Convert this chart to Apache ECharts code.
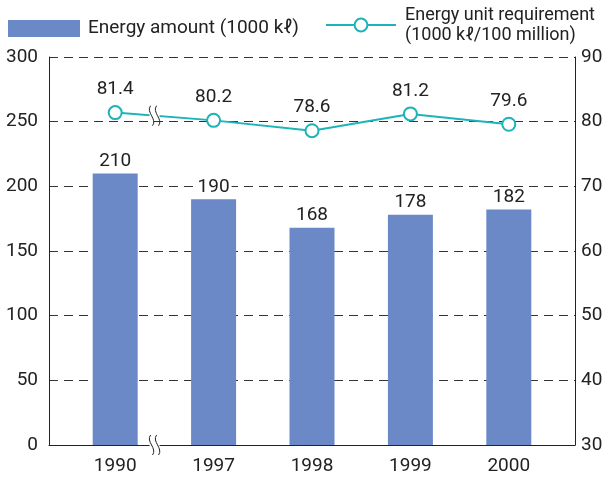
<!DOCTYPE html>
<html>
<head>
<meta charset="utf-8">
<script src="https://cdn.jsdelivr.net/npm/echarts@6/dist/echarts.min.js"></script>
<style>
  html, body { margin: 0; padding: 0; background: #fff; }
  #chart { width: 614px; height: 477px; }
</style>
</head>
<body>
<div id="chart"></div>
<script>
// data
const years = ['1990', '1997', '1998', '1999', '2000']
const energyAmount = [210, 190, 168, 178, 182]        // 1000 kℓ
const unitRequirement = [81.4, 80.2, 78.6, 81.2, 79.6] // 1000 kℓ / 100 million
const leftTicks = { min: 0, max: 300, interval: 50 }
const rightTicks = { min: 30, max: 90, interval: 10 }

const barName = 'Energy amount (1000 kℓ)'
const lineName = 'Energy unit requirement\n(1000 kℓ/100 million)'
const barColor = '#6b89c6'
const lineColor = '#1cb4b8'
const font = 'Roboto, Liberation Sans, Arial, sans-serif'
const numSize = 19

const chart = echarts.init(document.getElementById('chart'))

const option = {
  animation: false,
  textStyle: { fontFamily: font },
  legend: [
    {
      left: 8, top: 19, padding: 0,
      itemWidth: 72, itemHeight: 17,
      textStyle: { fontSize: 19, color: '#222', fontFamily: font, padding: [0, 0, 0, 3] },
      data: [{ name: barName, icon: 'rect' }]
    },
    {
      left: 325, top: 5, padding: 0,
      itemWidth: 70, itemHeight: 16,
      textStyle: { fontSize: 18, color: '#222', lineHeight: 20, fontFamily: font, padding: [0, 0, 0, 4] },
      data: [{ name: lineName }]
    }
  ],
  grid: [
    { left: 49, right: 39, top: 57, bottom: 32 },
    { left: 66, right: 56, top: 57, bottom: 32 }
  ],
  xAxis: [
    {
      gridIndex: 0, type: 'value', min: 0, max: 1,
      axisLine: { show: true, lineStyle: { color: '#222', width: 1 } },
      axisTick: { show: false }, axisLabel: { show: false }, splitLine: { show: false }
    },
    {
      gridIndex: 1, type: 'category', data: years,
      axisLine: { show: false }, axisTick: { show: false },
      axisLabel: { fontSize: numSize, color: '#222', margin: 12, fontFamily: font }
    }
  ],
  yAxis: [
    {
      gridIndex: 0, type: 'value', ...leftTicks,
      axisLine: { show: true, lineStyle: { color: '#222' } },
      axisTick: { show: false },
      axisLabel: { fontSize: numSize, color: '#222', margin: 11, fontFamily: font },
      splitLine: { show: true, lineStyle: { color: '#333', type: [9, 6], width: 1 } }
    },
    {
      gridIndex: 0, type: 'value', position: 'right', ...rightTicks,
      axisLine: { show: true, lineStyle: { color: '#222' } },
      axisTick: { show: false },
      axisLabel: { fontSize: numSize, color: '#222', margin: 6, fontFamily: font },
      splitLine: { show: false }
    },
    { gridIndex: 1, type: 'value', ...leftTicks, show: false },
    { gridIndex: 1, type: 'value', ...rightTicks, show: false }
  ],
  series: [
    {
      name: barName, type: 'bar', xAxisIndex: 1, yAxisIndex: 2,
      data: energyAmount, barWidth: 45,
      itemStyle: { color: barColor },
      label: {
        show: true, position: 'top', distance: 3, fontSize: numSize, color: '#222', fontFamily: font,
        backgroundColor: '#fff', padding: [0, 2]
      }
    },
    {
      name: lineName, type: 'line', xAxisIndex: 1, yAxisIndex: 3,
      data: unitRequirement,
      symbol: 'emptyCircle', symbolSize: 13,
      lineStyle: { color: lineColor, width: 2 },
      itemStyle: { color: lineColor, borderWidth: 2.5 },
      label: { show: true, position: 'top', distance: 6, fontSize: numSize, color: '#222', fontFamily: font },
      z: 5
    }
  ]
}
chart.setOption(option)

// break marks between 1990 and 1997 (on the line and on the x axis)
function breakMark (x, y, h) {
  const g = []
  g.push({ type: 'rect', shape: { x: x - 5, y: y - 3, width: 10, height: 6 }, style: { fill: '#fff' }, z: 20 })
  ;[-3, 3].forEach(dx => {
    g.push({
      type: 'bezierCurve',
      shape: {
        x1: x + dx - 1, y1: y - h / 2,
        cpx1: x + dx - 6, cpy1: y - h / 6,
        cpx2: x + dx + 6, cpy2: y + h / 6,
        x2: x + dx + 1, y2: y + h / 2
      },
      style: { stroke: '#222', lineWidth: 1, fill: null },
      z: 21
    })
  })
  return g
}
const p0 = chart.convertToPixel({ xAxisIndex: 1, yAxisIndex: 3 }, [0, unitRequirement[0]])
const p1 = chart.convertToPixel({ xAxisIndex: 1, yAxisIndex: 3 }, [1, unitRequirement[1]])
const t = 0.4
const bx = p0[0] + (p1[0] - p0[0]) * t
const by = p0[1] + (p1[1] - p0[1]) * t
const axisY = chart.convertToPixel({ yAxisIndex: 2 }, 0)
chart.setOption({
  graphic: [...breakMark(bx, by, 20), ...breakMark(bx, axisY, 20)]
})
</script>
</body>
</html>
